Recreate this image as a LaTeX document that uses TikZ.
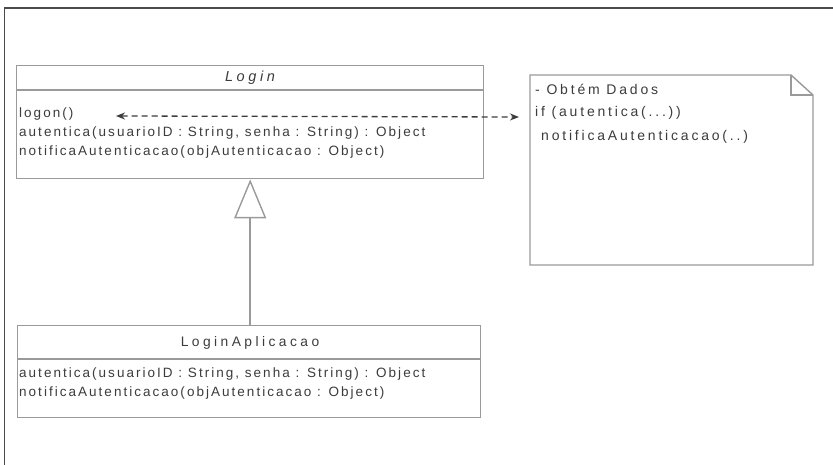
\documentclass[tikz,border=0pt]{standalone}
\usepackage{fontspec}
\setmainfont{Liberation Sans}
\newfontfamily\umlfont[LetterSpace=15]{Liberation Sans}
\newfontfamily\notefont[LetterSpace=20]{Liberation Sans}
\newfontfamily\titlefont[LetterSpace=25]{Liberation Sans}
\usetikzlibrary{arrows.meta}
\definecolor{boxline}{HTML}{9A9A9A}
\definecolor{ink}{HTML}{3C3C3C}
\definecolor{frameline}{HTML}{4A4A4A}
\tikzset{
  classbox/.style={draw=boxline, line width=1.4pt, fill=white, anchor=north west, inner sep=0pt},
  divider/.style={draw=boxline, line width=1.2pt},
  member/.style={anchor=west, inner sep=0pt, text=ink, font=\umlfont\fontsize{13.5}{15}\selectfont},
  title/.style={inner sep=0pt, text=ink, font=\titlefont\fontsize{13.8}{16}\selectfont},
  notetext/.style={anchor=west, inner sep=0pt, text=ink, font=\notefont\fontsize{14}{16}\selectfont},
  generalization/.style={draw=boxline, line width=1.6pt,
    -{Triangle[open, width=32pt, length=39pt, line width=1.4pt]}},
  link/.style={draw=ink, line width=1.3pt, dashed, dash pattern=on 6pt off 4pt,
    {Stealth[length=9pt, width=7pt]}-{Stealth[length=9pt, width=7pt]}},
}
\begin{document}
\begin{tikzpicture}[x=1pt, y=-1pt]
\useasboundingbox (0,0) rectangle (833,465);

% outer frame (top and left edges only)
\draw[frameline, line width=1.5pt] (4.5,465) -- (4.5,8) -- (833,8);

% class Login
\node[classbox, minimum width=467pt, minimum height=113pt] (login) at (16,65) {};
\draw[divider] (16,90) -- (483,90);
\node[title, font=\titlefont\itshape\fontsize{14.5}{16}\selectfont] (logintitle) at (250,78) {Login};
\node[member] (m1) at (19,114) {logon()};
\node[member] (m2) at (19,133) {autentica(usuarioID : String, senha : String) : Object};
\node[member] (m3) at (19,152) {notificaAutenticacao(objAutenticacao : Object)};

% class LoginAplicacao
\node[classbox, minimum width=463pt, minimum height=92pt] (app) at (17,325) {};
\draw[divider] (17,359) -- (480,359);
\node[title] (apptitle) at (250,343) {LoginAplicacao};
\node[member] (a1) at (19,374) {autentica(usuarioID : String, senha : String) : Object};
\node[member] (a2) at (19,393) {notificaAutenticacao(objAutenticacao : Object)};

% note with folded corner
\draw[boxline, line width=1.4pt, fill=white]
  (530,75) -- (791,75) -- (813,95) -- (813,265) -- (530,265) -- cycle;
\draw[boxline, line width=1.1pt] (791,75) -- (791,95) -- (813,95);
\node[notetext] (n1) at (535,89) {- Obtém Dados};
\node[notetext] (n2) at (535,113) {if (autentica(...))};
\node[notetext] (n3) at (541,137) {notificaAutenticacao(..)};

% connectors
\coordinate (logonend) at (116,116);
\coordinate (noteend) at (519,117);
\draw[link] (logonend) -- (noteend);
\draw[generalization] (app.north -| login.south) -- (login.south);
\end{tikzpicture}
\end{document}
